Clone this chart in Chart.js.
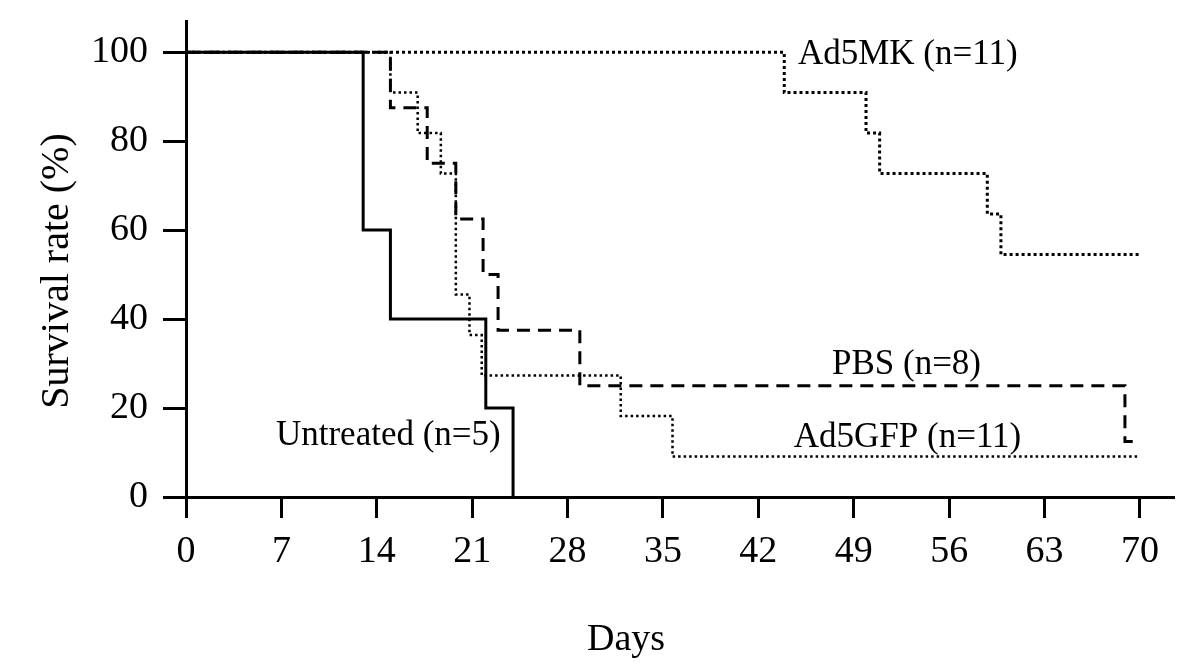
<!DOCTYPE html>
<html>
<head>
<meta charset="utf-8">
<script src="https://cdn.jsdelivr.net/npm/chart.js@4"></script>
<style>
  html, body { margin: 0; padding: 0; background: #fff; }
  #c { display: block; }
</style>
</head>
<body>
<canvas id="c" width="1200" height="665"></canvas>
<script>
// survival data (day of event, % surviving after it)
var untreatedDays = [0, 13, 15, 22, 24];
var untreatedSurv = [100, 60, 40, 20, 0];

var pbsDays = [0, 15, 17.7, 19.8, 21.8, 22.9, 28.9, 68.9, 70];
var pbsSurv = [100, 87.5, 75, 62.5, 50, 37.5, 25, 12.5, 12.5];

var gfpDays = [0, 15, 17, 18.7, 19.8, 20.8, 21.7, 31.9, 35.7, 70];
var gfpSurv = [100, 90.9, 81.8, 72.7, 45.5, 36.4, 27.3, 18.2, 9.1, 9.1];

var mkDays = [0, 43.9, 49.9, 50.9, 58.8, 59.8, 70];
var mkSurv = [100, 90.9, 81.8, 72.7, 63.6, 54.5, 54.5];

var xTicks = [0, 7, 14, 21, 28, 35, 42, 49, 56, 63, 70];
var yTicks = [0, 20, 40, 60, 80, 100];

// group labels: text, day, percent
var groupLabels = [
  ['Ad5MK (n=11)', 44.9, 99.5],
  ['PBS (n=8)', 47.4, 29.8],
  ['Ad5GFP (n=11)', 44.6, 13.3],
  ['Untreated (n=5)', 6.6, 13.8]
];

var xTitle = 'Days';
var yTitle = 'Survival rate (%)';

var serif = 'Liberation Serif';

function pts(days, surv) {
  var out = [];
  for (var i = 0; i < days.length; i++) {
    out.push({ x: days[i], y: surv[i] });
  }
  return out;
}

function setTicks(list) {
  return function (scale) {
    scale.ticks = list.map(function (v) { return { value: v }; });
  };
}

// text drawn by hand: group names and the two axis titles (they sit off-centre in the original)
var textPlugin = {
  id: 'groupText',
  afterDatasetsDraw: function (chart) {
    var ctx = chart.ctx;
    var xs = chart.scales.x, ys = chart.scales.y;
    var area = chart.chartArea;
    ctx.save();
    ctx.fillStyle = '#000';
    ctx.font = '35px "' + serif + '"';
    ctx.textAlign = 'left';
    ctx.textBaseline = 'middle';
    for (var i = 0; i < groupLabels.length; i++) {
      var g = groupLabels[i];
      ctx.fillText(g[0], xs.getPixelForValue(g[1]), ys.getPixelForValue(g[2]));
    }

    ctx.textAlign = 'center';
    ctx.font = '38px "' + serif + '"';
    ctx.fillText(xTitle, area.left + 440, area.bottom + 143);

    ctx.font = '40px "' + serif + '"';
    ctx.translate(57, area.top + 250);
    ctx.rotate(-Math.PI / 2);
    ctx.fillText(yTitle, 0, 0);
    ctx.restore();
  }
};

var ctx = document.getElementById('c').getContext('2d');
var myChart = new Chart(ctx, {
  type: 'line',
  data: {
    datasets: [
      { label: 'Untreated', data: pts(untreatedDays, untreatedSurv), stepped: true,
        borderColor: '#000', borderWidth: 3, pointRadius: 0, fill: false },
      { label: 'PBS', data: pts(pbsDays, pbsSurv), stepped: true,
        borderColor: '#000', borderWidth: 3, borderDash: [13, 8], pointRadius: 0, fill: false },
      { label: 'Ad5GFP', data: pts(gfpDays, gfpSurv), stepped: true,
        borderColor: '#000', borderWidth: 2.5, borderDash: [2.5, 3], pointRadius: 0, fill: false },
      { label: 'Ad5MK', data: pts(mkDays, mkSurv), stepped: true,
        borderColor: '#000', borderWidth: 3, borderDash: [3, 3], pointRadius: 0, fill: false }
    ]
  },
  options: {
    responsive: false,
    animation: false,
    devicePixelRatio: 1,
    layout: { padding: { top: 21, right: 26, left: 0, bottom: 0 } },
    plugins: {
      legend: { display: false },
      tooltip: { enabled: false }
    },
    scales: {
      x: {
        type: 'linear',
        min: 0,
        max: 72.5,
        afterBuildTicks: setTicks(xTicks),
        afterFit: function (s) {
          s.height = 168;
          s.paddingLeft = 0; s.paddingRight = 0;
        },
        grid: { drawOnChartArea: false, drawTicks: true, tickLength: 21, tickWidth: 3, color: '#000' },
        border: { display: true, color: '#000', width: 3 },
        ticks: { color: '#000', padding: 11, font: { family: serif, size: 38 }, maxRotation: 0 },
        title: { display: false }
      },
      y: {
        type: 'linear',
        min: 0,
        max: 107,
        afterBuildTicks: setTicks(yTicks),
        afterFit: function (s) {
          s.width = 186;
          s.paddingTop = 0; s.paddingBottom = 0;
        },
        grid: { drawOnChartArea: false, drawTicks: true, tickLength: 23, tickWidth: 3, color: '#000' },
        border: { display: true, color: '#000', width: 3 },
        ticks: { color: '#000', padding: 15, font: { family: serif, size: 38 } },
        title: { display: false }
      }
    }
  },
  plugins: [textPlugin]
});
</script>
</body>
</html>
